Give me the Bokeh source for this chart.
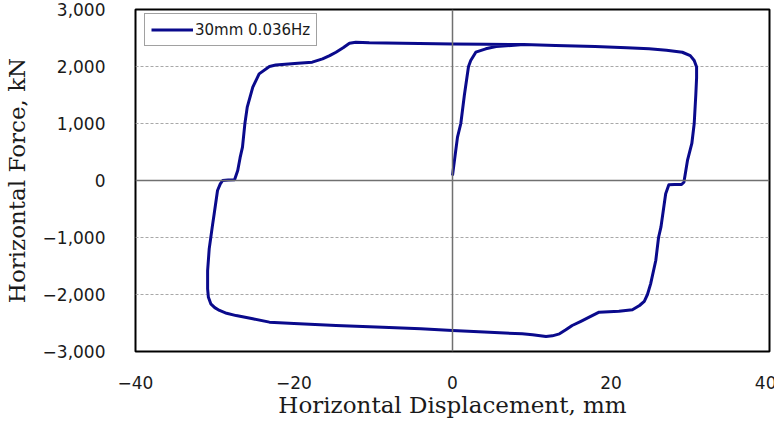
from bokeh.plotting import figure
from bokeh.models import Range1d, FixedTicker, Span, Legend, LegendItem
from bokeh.embed import file_html
from bokeh.resources import INLINE

# ---- data ----
disp_mm = [0.0, 0.63, 1.05, 1.5, 2.02, 2.3, 2.94, 4.2, 5.5,
           9, 13, 18, 22, 24.8, 27, 29, 30, 30.5, 30.8, 30.8, 30.7, 30.5, 30.2, 29.65,
           29.2, 28.9, 28.0, 27.3, 26.9, 26.6, 26.3, 26.0, 25.65, 25.0, 24.6, 24.2, 23.6,
           22.7, 21, 18.5, 17.25, 16.2, 15.1, 14.3, 13.5, 12.6, 11.8, 10.1, 8.8, 4, 0, -4, -8.8,
           -14.7, -20, -23.1, -25.2, -27.3, -28.5, -29.4, -30.0, -30.5, -30.8, -30.9, -30.9,
           -30.7, -30.5, -30.3, -30.07, -29.65, -29.3, -29.0, -28.3, -27.5, -27.1,
           -26.8, -26.5, -26.2, -25.9, -25.2, -24.4, -23.1, -22.3, -21.5, -19.5, -17.7,
           -16.4, -15.5, -14.7, -13.8, -13.0, -12.2, -10.5, -6.3, 0, 4.2, 9, 13]
force_kN = [88, 760, 1000, 1500, 2000, 2105, 2251, 2310, 2350,
            2385, 2368, 2350, 2330, 2310, 2285, 2250, 2190, 2105, 1990, 1800, 1500,
            1000, 650, 351, -30, -70, -72, -75, -233, -526, -819, -1000, -1404,
            -1813, -2000, -2120, -2193, -2269, -2295, -2310, -2398, -2470, -2544, -2620,
            -2690, -2725, -2737, -2705, -2690, -2660, -2632, -2600, -2573, -2544, -2510,
            -2485, -2427, -2370, -2330, -2280, -2230, -2164, -2050, -1900, -1580,
            -1200, -1000, -800, -585, -175, -60, 0, 10, 15, 175, 400, 585, 995, 1287,
            1637, 1871, 2000, 2025, 2035, 2055, 2076, 2135, 2190, 2251, 2330, 2409, 2427,
            2415, 2409, 2396, 2390, 2385, 2368]

series_label = "30mm 0.036Hz"
x_ticks = [-40, -20, 0, 20, 40]
x_tick_labels = ["\u221240", "\u221220", "0", "20", "40"]
y_ticks = [-3000, -2000, -1000, 0, 1000, 2000, 3000]
y_tick_labels = ["\u22123,000", "\u22122,000", "\u22121,000", "0", "1,000", "2,000", "3,000"]
grid_ticks = [-2000, -1000, 1000, 2000]

p = figure(frame_width=634, frame_height=342, output_backend="svg", toolbar_location=None,
           x_range=Range1d(-40, 40), y_range=Range1d(-3000, 3000))
p.min_border_left = 133
p.min_border_right = 7
p.min_border_top = 9
p.min_border_bottom = 76
p.background_fill_color = "white"
p.border_fill_color = "white"
p.outline_line_color = "black"
p.outline_line_width = 2

# grid
p.xgrid.visible = False
p.ygrid.ticker = FixedTicker(ticks=grid_ticks)
p.ygrid.grid_line_color = "#a8a8a8"
p.ygrid.grid_line_dash = "3 2"
p.ygrid.grid_line_width = 1

# zero lines
p.add_layout(Span(location=0, dimension="height", line_color="#707070", line_width=1.5))
p.add_layout(Span(location=0, dimension="width", line_color="#707070", line_width=1.5))

# axes
for ax in (p.xaxis[0], p.yaxis[0]):
    ax.axis_line_color = None
    ax.major_tick_line_color = None
    ax.minor_tick_line_color = None
    ax.major_label_text_font = "DejaVu Sans"
    ax.major_label_text_font_size = "17px"
    ax.major_label_text_color = "#1a1a1a"
    ax.axis_label_text_font = "DejaVu Serif"
    ax.axis_label_text_font_size = "23px"
    ax.axis_label_text_font_style = "normal"
    ax.axis_label_text_color = "#1a1a1a"

p.xaxis.ticker = FixedTicker(ticks=x_ticks)
p.xaxis.major_label_overrides = dict(zip(x_ticks, x_tick_labels))
p.xaxis.major_label_standoff = 18
p.xaxis.axis_label = "Horizontal Displacement, mm"
p.xaxis.axis_label_standoff = 0

p.yaxis.ticker = FixedTicker(ticks=y_ticks)
p.yaxis.major_label_overrides = dict(zip(y_ticks, y_tick_labels))
p.yaxis.major_label_standoff = 24
p.yaxis.axis_label = "Horizontal Force, kN"
p.yaxis.axis_label_standoff = 10

r = p.line(disp_mm, force_kN, line_color="#0a0a8c", line_width=3, line_join="round")

legend = Legend(items=[LegendItem(label=series_label, renderers=[r])],
                location=(9, 305))
legend.label_text_font = "DejaVu Sans"
legend.label_text_font_size = "15px"
legend.label_text_color = "#1a1a1a"
legend.border_line_color = "#444444"
legend.border_line_width = 1
legend.background_fill_alpha = 1
legend.padding = 6
legend.margin = 0
legend.glyph_width = 42
legend.glyph_height = 19
legend.label_height = 19
legend.label_standoff = 2
legend.spacing = 0
p.add_layout(legend, "center")

open("out.html", "w").write(file_html(p, INLINE))
